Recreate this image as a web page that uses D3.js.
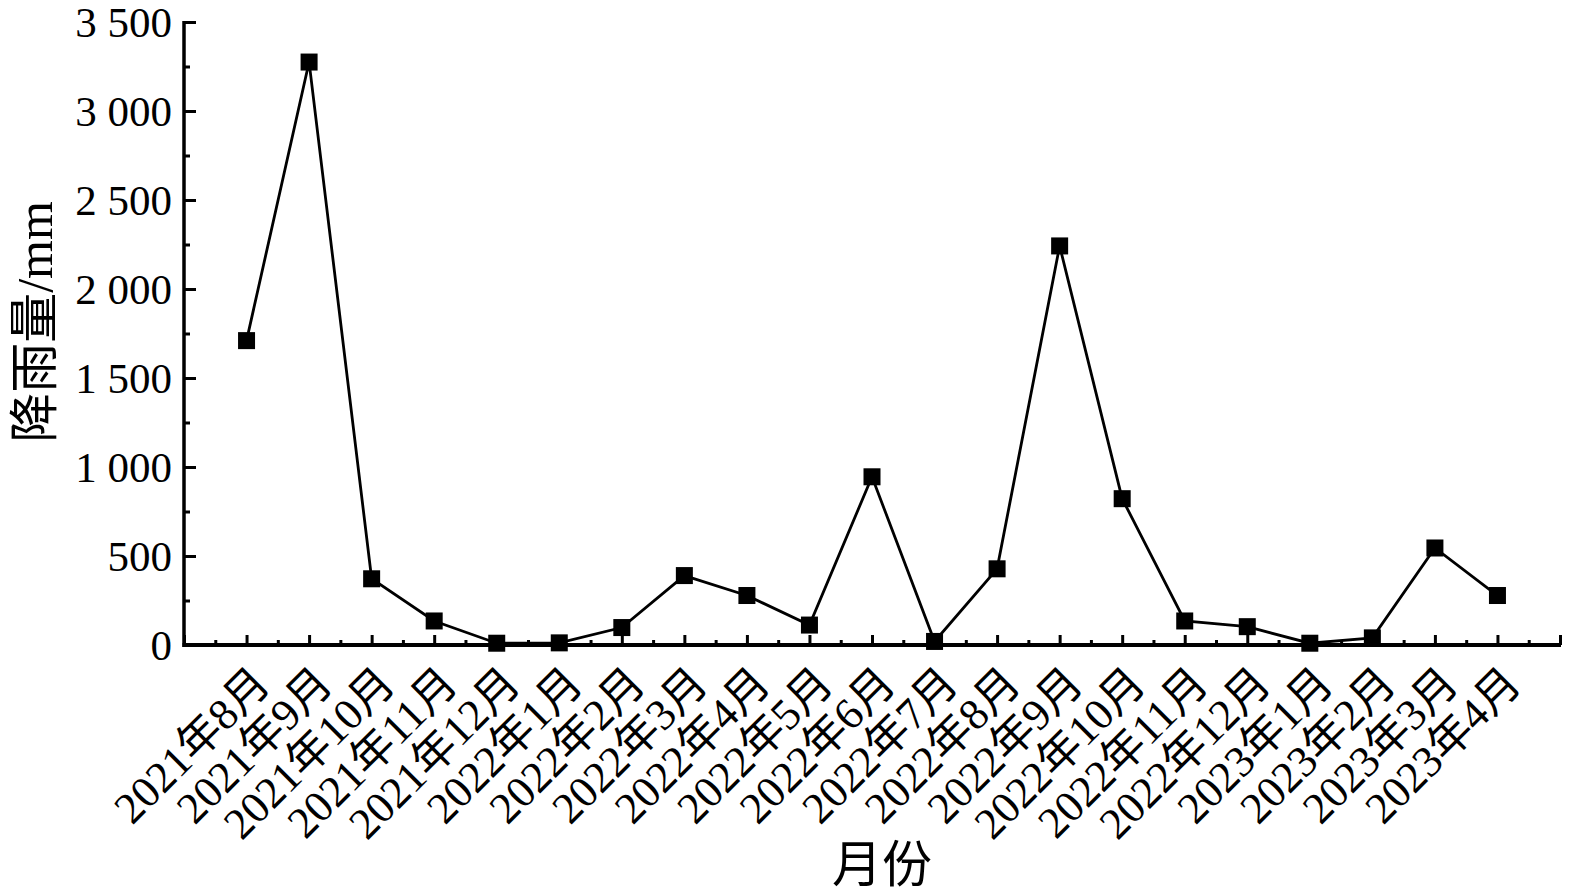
<!doctype html>
<html lang="zh">
<head>
  <meta charset="utf-8">
  <title>降雨量</title>
  <script src="https://d3js.org/d3.v7.min.js"></script>
  <style>
  body { margin: 0; background: #fff; }
  svg text { font-family: "Liberation Serif", "Noto Sans CJK SC", serif; fill: #000; }
  </style>
</head>
<body>
<script>
  // months (categories) and rainfall in mm
  var months = ["2021年8月", "2021年9月", "2021年10月", "2021年11月", "2021年12月",
                "2022年1月", "2022年2月", "2022年3月", "2022年4月", "2022年5月",
                "2022年6月", "2022年7月", "2022年8月", "2022年9月", "2022年10月",
                "2022年11月", "2022年12月", "2023年1月", "2023年2月", "2023年3月", "2023年4月"];
  var rain = [1710, 3275, 372, 135, 10, 12, 98, 390, 278, 112,
              945, 20, 428, 2242, 822, 135, 103, 10, 40, 545, 278];
  var yTicks = [0, 500, 1000, 1500, 2000, 2500, 3000, 3500];

  var width = 1570, height = 895;
  var x0 = 184, x1 = 1560, yBase = 645, yTop = 22;

  var svg = d3.select("body").append("svg")
      .attr("width", width)
      .attr("height", height);

  // x runs from 0 to n+1, the months sit on 1..n
  var x = d3.scaleLinear().domain([0, months.length + 1]).range([x0, x1]);
  var y = d3.scaleLinear().domain([0, 3500]).range([yBase, yTop]);

  var fmt = d3.formatLocale({decimal: ".", thousands: " ", grouping: [3], currency: ["", ""]}).format(",d");

  // y axis, ticks point inward
  var yAxis = svg.append("g")
      .attr("transform", "translate(" + x0 + ",0)")
      .call(d3.axisRight(y).tickValues(yTicks).tickSize(12).tickFormat(fmt));
  yAxis.select(".domain").remove();
  yAxis.selectAll(".tick line").attr("stroke", "#000").attr("stroke-width", 3);
  yAxis.selectAll(".tick text")
      .attr("x", -12)
      .attr("dy", "0.34em")
      .style("text-anchor", "end")
      .style("font-size", "43px");
  var yMinor = svg.append("g")
      .attr("transform", "translate(" + x0 + ",0)")
      .call(d3.axisRight(y).tickValues(d3.range(250, 3500, 500)).tickSize(6).tickFormat(""));
  yMinor.select(".domain").remove();
  yMinor.selectAll(".tick line").attr("stroke", "#000").attr("stroke-width", 3);

  // x axis, ticks point upward
  var idx = d3.range(0, months.length + 2);
  var xAxis = svg.append("g")
      .attr("transform", "translate(0," + yBase + ")")
      .call(d3.axisTop(x).tickValues(idx).tickSize(10).tickFormat(""));
  xAxis.select(".domain").remove();
  xAxis.selectAll(".tick line").attr("stroke", "#000").attr("stroke-width", 3);
  var xMinor = svg.append("g")
      .attr("transform", "translate(0," + yBase + ")")
      .call(d3.axisTop(x).tickValues(idx.slice(1).map(function(d) { return d - 0.5; })).tickSize(5).tickFormat(""));
  xMinor.select(".domain").remove();
  xMinor.selectAll(".tick line").attr("stroke", "#000").attr("stroke-width", 3);

  // axis lines
  svg.append("line").attr("x1", x0).attr("x2", x0).attr("y1", yTop - 1).attr("y2", yBase + 2)
      .attr("stroke", "#000").attr("stroke-width", 3.5);
  svg.append("line").attr("x1", x0 - 1.5).attr("x2", x1 + 1).attr("y1", yBase).attr("y2", yBase)
      .attr("stroke", "#000").attr("stroke-width", 4);

  // month labels, rotated
  svg.append("g").selectAll("text")
      .data(months)
    .enter().append("text")
      .attr("transform", function(d, i) { return "translate(" + (x(i + 1) + 4) + "," + (yBase + 19) + ") rotate(-45)"; })
      .attr("dy", "0.7em")
      .style("text-anchor", "end")
      .style("font-size", "44px")
      .text(function(d) { return d; });

  // line + square markers
  var pts = rain.map(function(v, i) { return [x(i + 1), y(v)]; });
  svg.append("path")
      .attr("d", d3.line()(pts))
      .attr("fill", "none")
      .attr("stroke", "#000")
      .attr("stroke-width", 2.8);
  svg.append("g").selectAll("rect")
      .data(rain)
    .enter().append("rect")
      .attr("x", function(d, i) { return x(i + 1) - 8.5; })
      .attr("y", function(d) { return y(d) - 8.5; })
      .attr("width", 17)
      .attr("height", 17)
      .attr("fill", "#000");

  // axis titles
  svg.append("text")
      .attr("transform", "translate(52,322) rotate(-90)")
      .style("text-anchor", "middle")
      .style("font-size", "50px")
      .text("降雨量/mm");
  svg.append("text")
      .attr("x", 882)
      .attr("y", 882)
      .style("text-anchor", "middle")
      .style("font-size", "50px")
      .text("月份");
</script>
</body>
</html>
